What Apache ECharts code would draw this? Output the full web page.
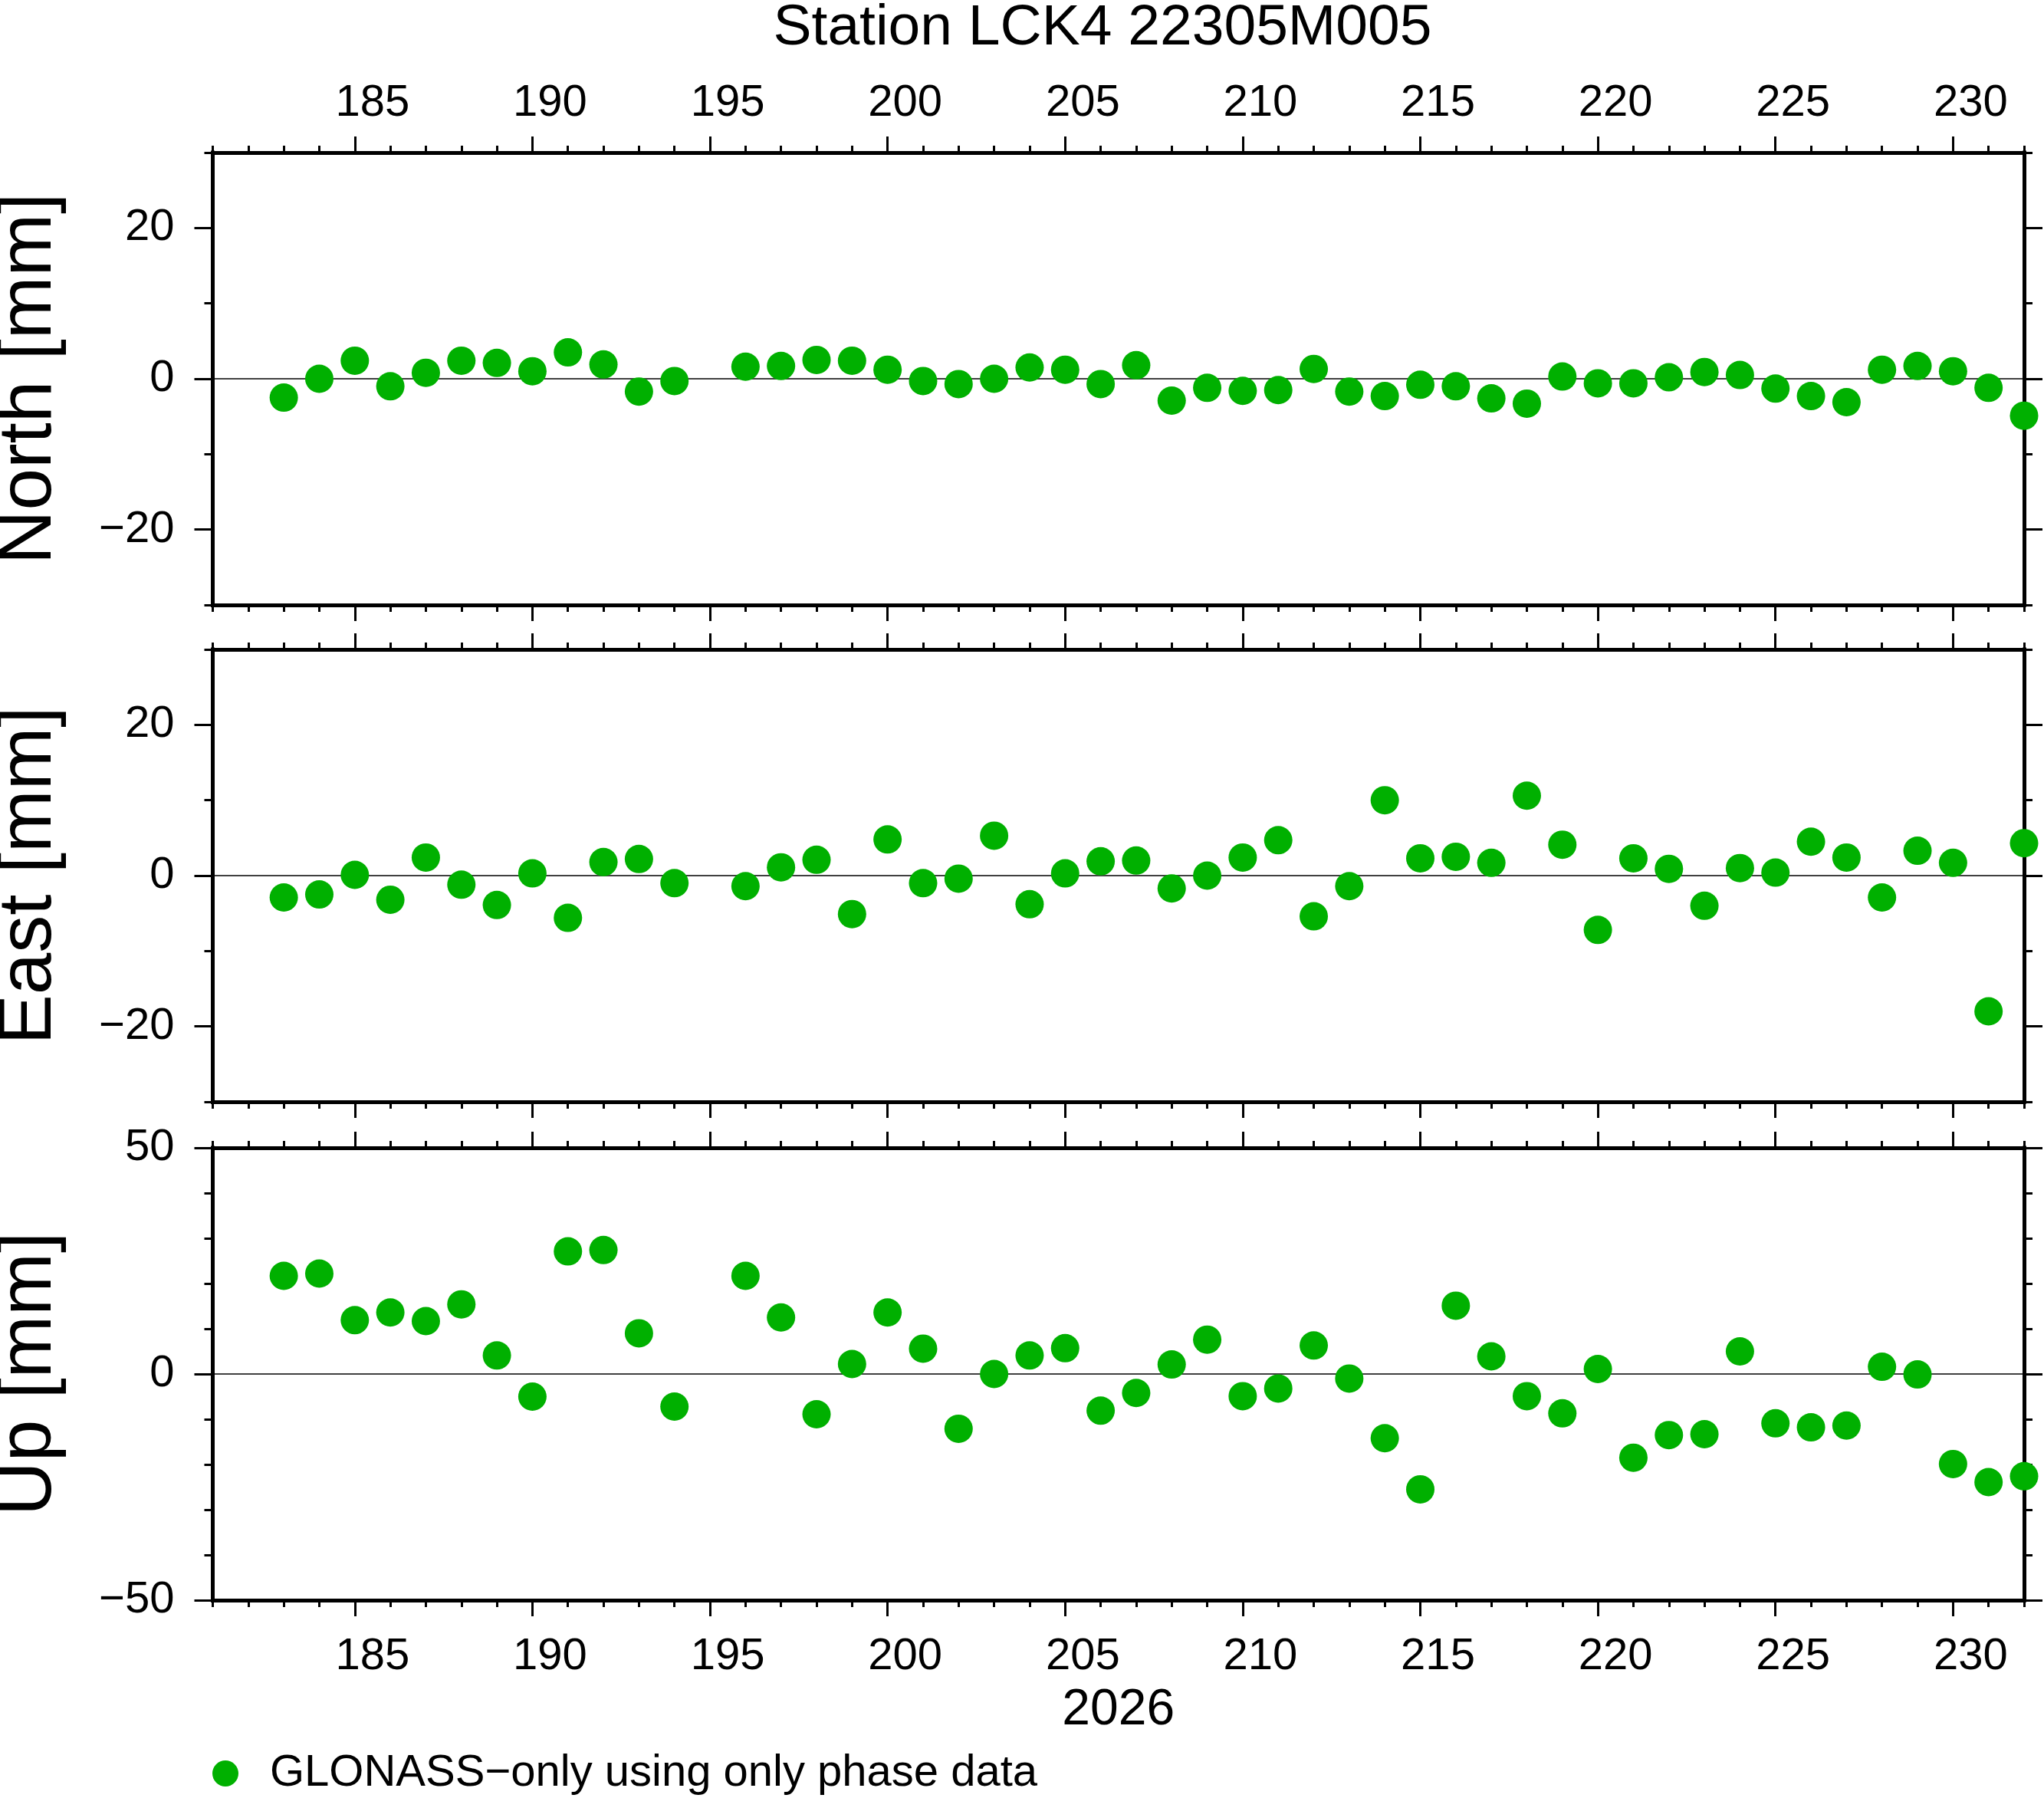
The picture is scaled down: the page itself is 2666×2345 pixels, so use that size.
<!DOCTYPE html>
<html>
<head>
<meta charset="utf-8">
<script src="https://cdn.jsdelivr.net/npm/echarts@6/dist/echarts.min.js"></script>
<style>
  html, body { margin: 0; padding: 0; background: #ffffff; }
  #chart { width: 2666px; height: 2345px; }
</style>
</head>
<body>
<div id="chart"></div>
<script>
// ---- data ----
const days = [183,184,185,186,187,188,189,190,191,192,193,194,
  196,197,198,199,200,201,202,203,204,205,206,207,208,209,210,211,212,213,214,
  215,216,217,218,219,220,221,222,223,224,225,226,227,228,229,230,231,232];
const north = [-2.5,0.0,2.4,-1.0,0.8,2.4,2.1,1.0,3.5,1.9,-1.7,-0.3,
  1.6,1.7,2.5,2.4,1.2,-0.3,-0.7,0.0,1.5,1.2,-0.7,1.8,-2.9,-1.2,-1.6,-1.5,1.3,-1.7,-2.3,
  -0.8,-1.0,-2.6,-3.3,0.3,-0.6,-0.6,0.2,0.9,0.5,-1.3,-2.3,-3.1,1.2,1.7,1.0,-1.2,-4.9];
const east = [-2.9,-2.5,0.1,-3.2,2.4,-1.2,-3.9,0.3,-5.6,1.8,2.2,-1.0,
  -1.4,1.1,2.1,-5.1,4.8,-1.0,-0.4,5.3,-3.8,0.3,1.9,2.0,-1.7,0.0,2.4,4.7,-5.4,-1.4,10.0,
  2.3,2.5,1.7,10.6,4.1,-7.2,2.3,0.9,-4.0,1.0,0.4,4.5,2.4,-2.9,3.3,1.7,-18.0,4.3];
const up = [21.7,22.2,11.9,13.6,11.7,15.4,4.1,-5.0,27.1,27.4,9.0,-7.2,
  21.7,12.5,-8.9,2.2,13.6,5.6,-12.1,0.0,4.1,5.7,-8.1,-4.2,2.1,7.6,-4.9,-3.2,6.3,-1.0,-14.2,
  -25.5,15.1,3.9,-4.9,-8.7,1.1,-18.5,-13.5,-13.3,5.0,-10.9,-11.8,-11.4,1.6,-0.1,-19.9,-23.9,-22.6];

const xMin = 181, xMax = 232;
const xMajorTicks = [185,190,195,200,205,210,215,220,225,230];
const panelNames = ['North [mm]', 'East [mm]', 'Up [mm]'];
const panelValues = [north, east, up];
const yMins = [-30, -30, -50];
const yMaxs = [30, 30, 50];
const yMajorTicks = [[-20,0,20], [-20,0,20], [-50,0,50]];
const yMinorStep = 10;
const titleText = 'Station LCK4 22305M005';
const xAxisName = '2026';
const seriesName = 'GLONASS\u2212only using only phase data';

// ---- style / layout ----
const FONT = 'Liberation Sans';
const GREEN = '#00b000';
const gridTops = [199, 847, 1497];
const gridHeight = 590;
const gridLeft = 277.5;
const gridRight = 26;
const LW = 5;

function fmt(v) { return v < 0 ? '\u2212' + Math.abs(v) : String(v); }

const grids = [], xAxes = [], yAxes = [], series = [];
const lineStyle = { color: '#000', width: LW, cap: 'square' };
const tickStyle = { color: '#000', width: 3 };
const labelStyle = { fontFamily: FONT, fontSize: 58, color: '#000' };

for (let p = 0; p < 3; p++) {
  grids.push({ left: gridLeft, right: gridRight, top: gridTops[p], height: gridHeight,
               containLabel: false, outerBoundsMode: 'none' });
  ['bottom', 'top'].forEach((pos) => {
    const showLabels = (pos === 'top' && p === 0) || (pos === 'bottom' && p === 2);
    // minor axis (every day) with frame line
    xAxes.push({
      type: 'value', gridIndex: p, position: pos, min: xMin, max: xMax, interval: 1,
      axisLine: { show: true, onZero: false, lineStyle: lineStyle },
      axisTick: { show: true, length: 9, lineStyle: tickStyle },
      axisLabel: { show: false }, splitLine: { show: false }
    });
    // major axis (every 5 days) with labels (annotating the day, centred on it)
    const major = {
      type: 'value', gridIndex: p, position: pos, min: xMin, max: xMax,
      axisLine: { show: false, onZero: false },
      axisTick: { show: true, length: 21, lineStyle: tickStyle, customValues: xMajorTicks },
      axisLabel: { show: showLabels, customValues: xMajorTicks, formatter: fmt,
                   margin: pos === 'top' ? 35 : 45, padding: [0, 0, 0, 46], ...labelStyle },
      splitLine: { show: false }
    };
    if (pos === 'bottom' && p === 2) {
      major.name = xAxisName;
      major.nameLocation = 'middle';
      major.nameGap = 111;
      major.nameTextStyle = { fontFamily: FONT, fontSize: 66, color: '#000' };
    }
    xAxes.push(major);
  });
  ['left', 'right'].forEach((pos) => {
    const major = {
      type: 'value', gridIndex: p, position: pos, min: yMins[p], max: yMaxs[p],
      axisLine: { show: true, onZero: false, lineStyle: lineStyle },
      axisTick: { show: true, length: 24, lineStyle: tickStyle, customValues: yMajorTicks[p] },
      axisLabel: { show: pos === 'left', customValues: yMajorTicks[p], formatter: fmt,
                   margin: 50, ...labelStyle },
      splitLine: { show: false }
    };
    if (pos === 'left') {
      major.name = panelNames[p];
      major.nameLocation = 'middle';
      major.nameRotate = 90;
      major.nameGap = 190;
      major.nameTextStyle = { fontFamily: FONT, fontSize: 98, color: '#000' };
    }
    yAxes.push(major);
    yAxes.push({
      type: 'value', gridIndex: p, position: pos, min: yMins[p], max: yMaxs[p], interval: yMinorStep,
      axisLine: { show: false, onZero: false },
      axisTick: { show: true, length: 11, lineStyle: tickStyle },
      axisLabel: { show: false }, splitLine: { show: false }
    });
  });

  series.push({
    type: 'line', name: 'zero' + p, xAxisIndex: 4 * p, yAxisIndex: 4 * p,
    data: [[xMin, 0], [xMax, 0]], symbol: 'none', silent: true, z: 1,
    lineStyle: { color: '#000', width: 1.3 }
  });
  series.push({
    type: 'scatter', name: seriesName, xAxisIndex: 4 * p, yAxisIndex: 4 * p,
    data: days.map((d, i) => [d, panelValues[p][i]]),
    symbol: 'circle', symbolSize: 37, clip: false, z: 3,
    itemStyle: { color: GREEN, opacity: 1 }
  });
}

const chart = echarts.init(document.getElementById('chart'), null, { renderer: 'canvas' });
chart.setOption({
  animation: false,
  backgroundColor: '#ffffff',
  title: {
    text: titleText, left: 1438, top: 0, textAlign: 'center', padding: 0,
    textStyle: { fontFamily: FONT, fontSize: 75, fontWeight: 'normal', color: '#000' }
  },
  legend: {
    data: [seriesName], left: 277, top: 2284, padding: 0,
    icon: 'circle', itemWidth: 34, itemHeight: 34,
    textStyle: { fontFamily: FONT, fontSize: 58, color: '#000', padding: [0, 0, 0, 36] }
  },
  grid: grids,
  xAxis: xAxes,
  yAxis: yAxes,
  series: series
});
</script>
</body>
</html>
